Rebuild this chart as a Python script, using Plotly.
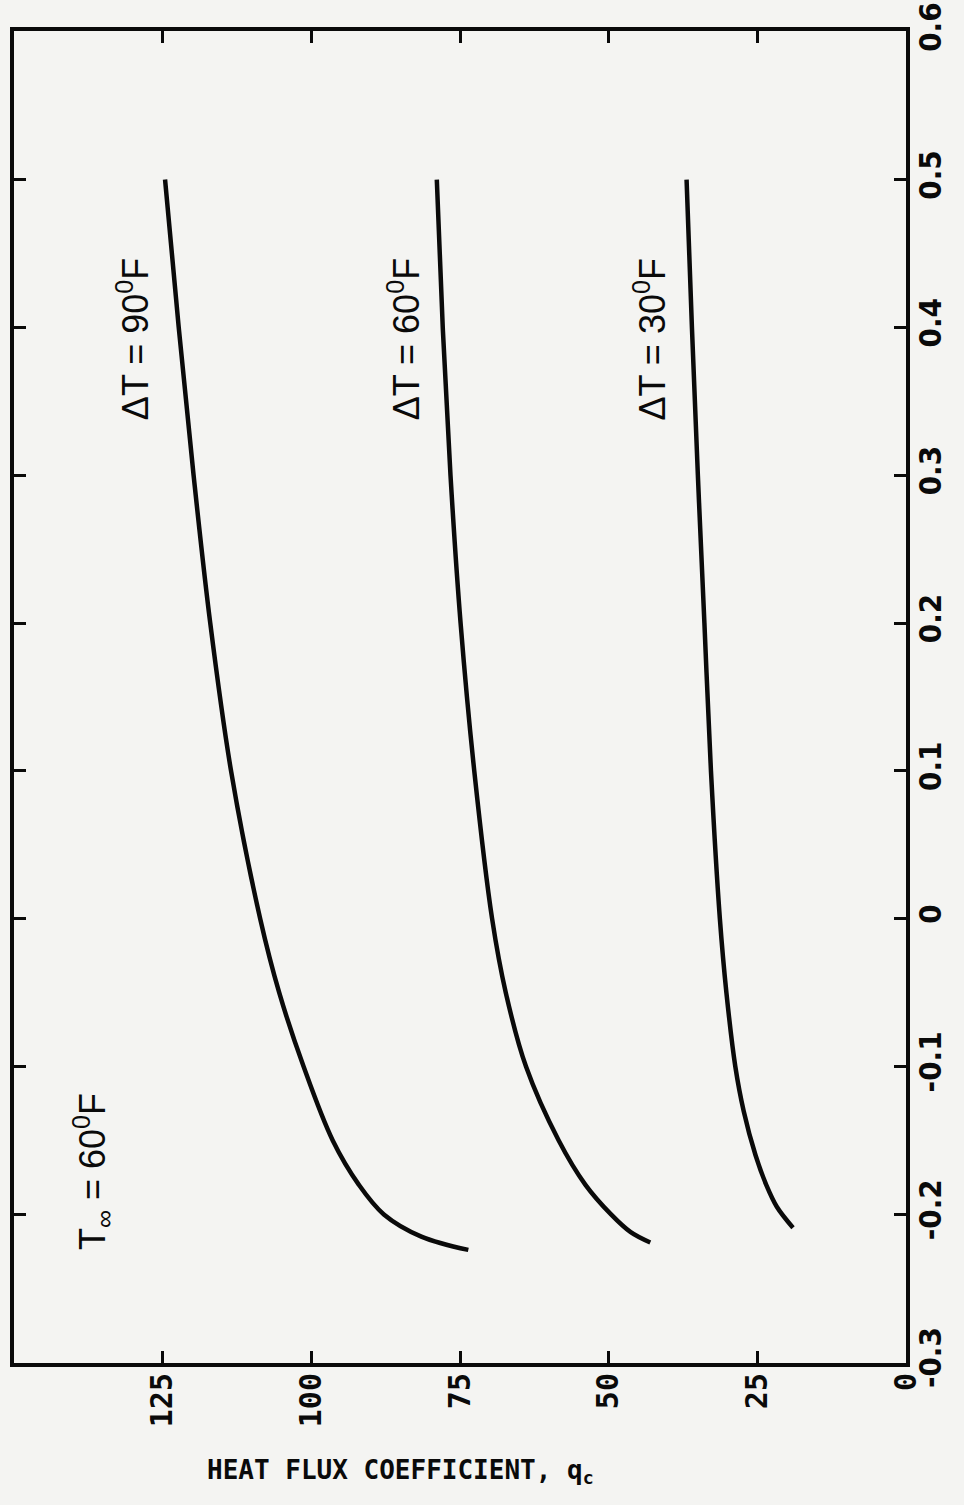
import plotly.graph_objects as go

# Parameter (vertical axis in the rotated page) and heat flux coefficient q_c
x_dt90 = [0.5, 0.4, 0.3, 0.2, 0.1, 0.0, -0.05, -0.1, -0.15, -0.18, -0.2, -0.215, -0.224]
q_dt90 = [124.6, 122.3, 119.8, 117.0, 113.5, 108.6, 105.4, 101.3, 96.4, 92.0, 87.8, 81.5, 73.6]

x_dt60 = [0.5, 0.4, 0.3, 0.2, 0.1, 0.0, -0.05, -0.1, -0.15, -0.18, -0.2, -0.212, -0.219]
q_dt60 = [78.9, 77.9, 76.6, 74.9, 72.6, 69.6, 67.3, 63.9, 58.4, 53.9, 49.6, 46.3, 43.0]

x_dt30 = [0.5, 0.4, 0.3, 0.2, 0.1, 0.0, -0.05, -0.1, -0.13, -0.16, -0.18, -0.195, -0.209]
q_dt30 = [36.9, 36.0, 35.0, 33.9, 32.8, 31.3, 30.2, 28.7, 27.3, 25.3, 23.5, 21.7, 19.0]

param_ticks = [-0.3, -0.2, -0.1, 0, 0.1, 0.2, 0.3, 0.4, 0.5, 0.6]
param_ticktext = ["-0.3", "-0.2", "-0.1", "0", "0.1", "0.2", "0.3", "0.4", "0.5", "0.6"]
q_ticks = [0, 25, 50, 75, 100, 125]
q_ticktext = ["0", "25", "50", "75", "100", "125"]

labels = ["\u0394T = 90<sup>0</sup>F", "\u0394T = 60<sup>0</sup>F", "\u0394T = 30<sup>0</sup>F", "T<sub>\u221e</sub> = 60<sup>0</sup>F"]
label_q = [130.0, 84.4, 43.0, 136.8]
label_x = [0.392, 0.392, 0.392, -0.171]

BG = "#f4f4f2"
INK = "#0a0a0a"

fig = go.Figure()
for xs, qs in [(x_dt90, q_dt90), (x_dt60, q_dt60), (x_dt30, q_dt30)]:
    fig.add_trace(go.Scatter(x=qs, y=xs, mode="lines",
                             line=dict(color=INK, width=4.5, shape="spline", smoothing=1.0),
                             showlegend=False, hoverinfo="skip"))

for t, q, p in zip(labels, label_q, label_x):
    fig.add_annotation(x=q, y=p, text=t, textangle=-90, showarrow=False,
                       font=dict(family="Liberation Sans, Arial, sans-serif", size=36, color=INK))

fig.add_annotation(x=0.433, y=-0.095, xref="paper", yref="paper", text="HEAT FLUX COEFFICIENT, q<sub>c</sub>",
                   showarrow=False,
                   font=dict(family="DejaVu Sans Mono, monospace", size=26, color=INK, weight="bold"))

fig.update_xaxes(range=[150, 0], tickvals=q_ticks, ticktext=q_ticktext, ticks="inside", ticklen=12, tickwidth=3,
                 tickcolor=INK, showline=True, linewidth=4, linecolor=INK, mirror="ticks", showgrid=False,
                 zeroline=False, tickangle=-90, automargin=False, ticklabelstandoff=-6,
                 ticklabeloverflow="allow",
                 tickfont=dict(family="DejaVu Sans Mono, monospace", size=30, color=INK, weight="bold"))
fig.update_yaxes(range=[-0.3005, 0.6005], tickvals=param_ticks, ticktext=param_ticktext, side="right",
                 ticks="inside", ticklen=12, tickwidth=3, tickcolor=INK, showline=True, linewidth=4,
                 linecolor=INK, mirror="ticks", showgrid=False, zeroline=False, tickangle=-90,
                 automargin=False, ticklabelstandoff=-6, ticklabeloverflow="allow",
                 tickfont=dict(family="Liberation Sans Narrow, DejaVu Sans Condensed, sans-serif", size=31,
                               color=INK, weight="bold"))

fig.update_layout(width=964, height=1505, margin=dict(l=14, r=58, t=31, b=142),
                  paper_bgcolor=BG, plot_bgcolor=BG)

fig.write_html("out.html")
